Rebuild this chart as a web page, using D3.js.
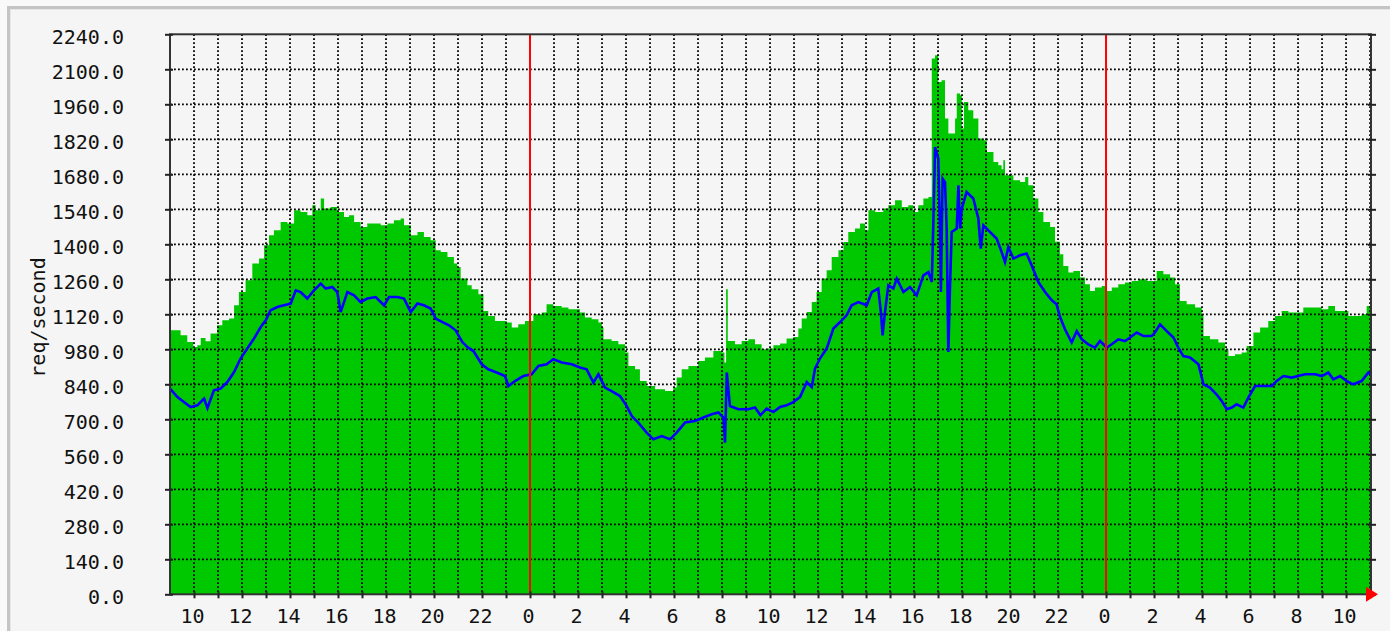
<!DOCTYPE html>
<html>
<head>
<meta charset="utf-8">
<script src="https://cdn.jsdelivr.net/npm/d3@7"></script>
<style>
  body { margin: 0; background: #f9f9f9; }
  svg { display: block; }
  text { font-family: "DejaVu Sans Mono", "Liberation Mono", monospace; font-size: 20px; fill: #111; }
</style>
</head>
<body>
<svg id="chart" width="1390" height="631"></svg>
<script>
// hours relative to the first midnight (0 = first red line, 24 = second)
const maxHours = [-15, -14.56, -14.28, -14.03, -13.86, -13.72, -13.52, -13.31, -13.03, -12.82, -12.54, -12.33, -12.13, -11.85, -11.57, -11.29, -11.08, -10.875, -10.67, -10.39, -10.11, -9.83, -9.56, -9.28, -9.07, -8.93, -8.72, -8.58, -8.31, -8.03, -7.75, -7.54, -7.33, -7.06, -6.78, -6.5, -6.22, -5.94, -5.67, -5.39, -5.25, -4.97, -4.69, -4.42, -4.14, -3.93, -3.72, -3.44, -3.17, -3.03, -2.89, -2.61, -2.43, -2.15, -1.94, -1.74, -1.46, -1.18, -0.97, -0.76, -0.49, -0.21, 0.14, 0.49, 0.69, 0.97, 1.32, 1.6, 1.875, 2.08, 2.29, 2.57, 2.85, 2.99, 3.06, 3.4, 3.68, 3.96, 4.1, 4.375, 4.58, 4.86, 5.21, 5.625, 5.97, 6.11, 6.32, 6.6, 6.9, 7.01, 7.29, 7.64, 7.99, 8.1, 8.17, 8.24, 8.54, 8.82, 9.1, 9.375, 9.65, 9.86, 10.14, 10.42, 10.69, 10.97, 11.18, 11.32, 11.53, 11.74, 11.94, 12.15, 12.36, 12.57, 12.85, 13.06, 13.26, 13.54, 13.75, 13.96, 14.1, 14.38, 14.72, 14.93, 15.21, 15.49, 15.76, 15.97, 16.18, 16.39, 16.6, 16.74, 16.875, 17.01, 17.15, 17.29, 17.43, 17.64, 17.71, 17.78, 17.92, 17.99, 18.08, 18.26, 18.47, 18.68, 18.89, 19.03, 19.31, 19.51, 19.65, 19.72, 19.79, 20.14, 20.42, 20.63, 20.76, 20.97, 21.18, 21.39, 21.67, 21.875, 22.08, 22.22, 22.43, 22.64, 22.92, 23.125, 23.33, 23.54, 23.82, 24.03, 24.24, 24.51, 24.79, 25.07, 25.35, 25.69, 25.97, 26.11, 26.39, 26.67, 26.875, 27.08, 27.36, 27.71, 27.99, 28.06, 28.33, 28.68, 28.96, 29.1, 29.375, 29.65, 29.86, 30.14, 30.42, 30.76, 31.04, 31.32, 31.6, 31.875, 32.22, 32.57, 32.99, 33.26, 33.54, 33.82, 34.1, 34.375, 34.65, 34.86, 35.04];
const maxReq = [1056, 1036, 1009, 989, 996, 1025, 1012, 1043, 1076, 1096, 1103, 1156, 1209, 1256, 1323, 1343, 1396, 1436, 1456, 1489, 1483, 1536, 1529, 1516, 1556, 1536, 1583, 1543, 1549, 1529, 1509, 1516, 1489, 1469, 1483, 1483, 1476, 1483, 1496, 1503, 1476, 1436, 1449, 1429, 1416, 1376, 1369, 1349, 1323, 1309, 1263, 1236, 1220, 1200, 1133, 1113, 1093, 1093, 1087, 1067, 1080, 1093, 1120, 1127, 1160, 1153, 1147, 1140, 1140, 1127, 1107, 1100, 1087, 1067, 1020, 1013, 1000, 967, 913, 900, 853, 833, 820, 813, 827, 867, 900, 913, 913, 933, 947, 973, 967, 927, 1220, 1013, 1000, 1013, 1020, 1000, 980, 983, 996, 1003, 1023, 1029, 1063, 1103, 1129, 1169, 1209, 1263, 1296, 1349, 1376, 1409, 1449, 1463, 1483, 1456, 1536, 1529, 1543, 1556, 1576, 1549, 1556, 1529, 1556, 1583, 1589, 2143, 2156, 2049, 2056, 1903, 1843, 1843, 1903, 2003, 1996, 1863, 1969, 1936, 1903, 1823, 1816, 1769, 1729, 1716, 1700, 1736, 1676, 1656, 1649, 1669, 1636, 1583, 1529, 1489, 1469, 1410, 1360, 1313, 1287, 1293, 1267, 1240, 1213, 1227, 1233, 1213, 1227, 1240, 1247, 1253, 1260, 1253, 1253, 1293, 1280, 1267, 1240, 1173, 1160, 1147, 1120, 1033, 1020, 1007, 980, 953, 960, 967, 993, 1047, 1067, 1093, 1113, 1133, 1127, 1127, 1147, 1147, 1140, 1153, 1133, 1133, 1113, 1113, 1120, 1153, 1167];

const avgHours = [-15, -14.69, -14.42, -14.14, -13.86, -13.58, -13.44, -13.17, -12.89, -12.61, -12.33, -12.06, -11.78, -11.5, -11.22, -11.01, -10.81, -10.53, -10.25, -9.97, -9.76, -9.56, -9.28, -9.0, -8.72, -8.51, -8.24, -8.03, -7.89, -7.61, -7.33, -7.06, -6.78, -6.43, -6.08, -5.875, -5.53, -5.25, -4.97, -4.69, -4.42, -4.14, -3.93, -3.65, -3.375, -3.1, -2.82, -2.61, -2.36, -2.01, -1.74, -1.39, -1.04, -0.9, -0.625, -0.28, 0.07, 0.35, 0.69, 0.97, 1.32, 1.74, 2.08, 2.36, 2.64, 2.85, 3.125, 3.4, 3.75, 4.03, 4.24, 4.51, 4.86, 5.14, 5.49, 5.83, 6.11, 6.46, 6.875, 7.22, 7.57, 7.85, 8.06, 8.125, 8.2, 8.33, 8.68, 9.1, 9.375, 9.6, 9.86, 10.14, 10.42, 10.69, 10.97, 11.25, 11.53, 11.74, 11.875, 12.08, 12.36, 12.64, 12.92, 13.19, 13.4, 13.68, 14.03, 14.24, 14.51, 14.62, 14.69, 14.79, 14.93, 15.14, 15.28, 15.56, 15.83, 16.11, 16.39, 16.6, 16.74, 16.81, 16.875, 17.01, 17.08, 17.12, 17.19, 17.29, 17.36, 17.43, 17.5, 17.57, 17.78, 17.85, 17.92, 17.99, 18.19, 18.47, 18.68, 18.78, 18.89, 19.17, 19.44, 19.65, 19.79, 19.93, 20.14, 20.42, 20.69, 20.9, 21.18, 21.46, 21.74, 21.94, 22.08, 22.29, 22.57, 22.78, 22.99, 23.26, 23.54, 23.75, 24.03, 24.24, 24.51, 24.79, 25.0, 25.28, 25.56, 25.9, 26.04, 26.25, 26.53, 26.81, 27.01, 27.22, 27.5, 27.85, 28.06, 28.33, 28.6, 28.82, 29.03, 29.24, 29.44, 29.72, 29.93, 30.21, 30.625, 30.9, 31.11, 31.39, 31.74, 32.01, 32.29, 32.71, 32.99, 33.26, 33.47, 33.75, 34.03, 34.3, 34.65, 34.93, 35.04];
const avgReq = [823, 789, 769, 749, 756, 783, 745, 816, 823, 849, 889, 943, 983, 1023, 1069, 1096, 1136, 1149, 1156, 1163, 1216, 1209, 1183, 1216, 1243, 1223, 1229, 1209, 1129, 1209, 1196, 1169, 1183, 1189, 1156, 1189, 1189, 1183, 1129, 1163, 1156, 1143, 1103, 1089, 1076, 1056, 1009, 989, 973, 920, 900, 887, 873, 833, 853, 873, 880, 913, 920, 940, 927, 920, 907, 900, 847, 880, 827, 813, 793, 753, 713, 687, 647, 620, 633, 620, 647, 687, 693, 707, 720, 727, 707, 607, 887, 753, 740, 740, 747, 716, 743, 729, 749, 756, 769, 789, 849, 829, 903, 943, 983, 1063, 1089, 1116, 1156, 1169, 1156, 1209, 1223, 1129, 1036, 1129, 1236, 1223, 1263, 1209, 1229, 1196, 1276, 1289, 1249, 1503, 1789, 1743, 1463, 1209, 1663, 1649, 1463, 969, 1236, 1449, 1463, 1636, 1463, 1543, 1609, 1583, 1503, 1383, 1476, 1449, 1423, 1369, 1329, 1389, 1343, 1356, 1363, 1316, 1249, 1209, 1176, 1160, 1110, 1060, 1007, 1053, 1020, 1000, 987, 1013, 987, 1000, 1020, 1013, 1027, 1047, 1033, 1033, 1047, 1080, 1053, 1027, 987, 953, 947, 920, 840, 827, 800, 773, 740, 747, 760, 747, 787, 833, 833, 833, 853, 873, 867, 873, 880, 880, 873, 887, 860, 873, 853, 840, 853, 887, 880];

const yTicks = [0, 140, 280, 420, 560, 700, 840, 980, 1120, 1260, 1400, 1540, 1680, 1820, 1960, 2100, 2240];
const labelHours = [-14, -12, -10, -8, -6, -4, -2, 0, 2, 4, 6, 8, 10, 12, 14, 16, 18, 20, 22, 24, 26, 28, 30, 32, 34];
const labelTexts = ["10", "12", "14", "16", "18", "20", "22", "0", "2", "4", "6", "8", "10", "12", "14", "16", "18", "20", "22", "0", "2", "4", "6", "8", "10"];
const midnights = [0, 24];

const svg = d3.select("#chart");
const plotLeft = 170, plotRight = 1371, plotTop = 34.3, plotBottom = 594.3;

const x = d3.scaleLinear().domain([-15, 35.04]).range([plotLeft, plotRight]);
const y = d3.scaleLinear().domain([0, 2240]).range([plotBottom, plotTop]);
const hourTicks = d3.range(-14, 36);

// outer frame
svg.append("rect").attr("x", 0).attr("y", 0).attr("width", 1390).attr("height", 631).attr("fill", "#f9f9f9");
svg.append("rect")
  .attr("x", 8.5).attr("y", 7.5).attr("width", 1450).attr("height", 700)
  .attr("fill", "#f5f5f5").attr("stroke", "#c4c4c4").attr("stroke-width", 3);
svg.append("rect")
  .attr("x", 10.5).attr("y", 9.5).attr("width", 1450).attr("height", 700)
  .attr("fill", "none").attr("stroke", "#e6e6e6").attr("stroke-width", 1);

svg.append("clipPath").attr("id", "plotClip")
  .append("rect").attr("x", plotLeft).attr("y", plotTop)
  .attr("width", plotRight - plotLeft).attr("height", plotBottom - plotTop);

const maxData = maxHours.map((t, i) => ({ t: t, v: maxReq[i] }));
const avgData = avgHours.map((t, i) => ({ t: t, v: avgReq[i] }));

// green max area
svg.append("path")
  .datum(maxData)
  .attr("clip-path", "url(#plotClip)")
  .attr("fill", "#00c800")
  .attr("d", d3.area().x((d) => x(d.t)).y0(plotBottom).y1((d) => y(d.v)).curve(d3.curveStepAfter));

// dotted grid
const grid = svg.append("g").attr("stroke", "#000").attr("stroke-width", 1.8).attr("stroke-dasharray", "1.8,2.2");
grid.selectAll(".hgrid")
  .data(yTicks.filter((v) => v > 0 && v < 2240))
  .enter().append("line")
  .attr("x1", plotLeft).attr("x2", plotRight)
  .attr("y1", (d) => y(d)).attr("y2", (d) => y(d));
grid.selectAll(".vgrid")
  .data(hourTicks.filter((h) => midnights.indexOf(h) < 0))
  .enter().append("line")
  .attr("x1", (d) => x(d)).attr("x2", (d) => x(d))
  .attr("y1", plotTop).attr("y2", plotBottom);

// blue average line
svg.append("path")
  .datum(avgData)
  .attr("clip-path", "url(#plotClip)")
  .attr("fill", "none")
  .attr("stroke", "#0000ff")
  .attr("stroke-width", 2.6)
  .attr("d", d3.line().x((d) => x(d.t)).y((d) => y(d.v)));

// red midnight lines
svg.selectAll(".midnight")
  .data(midnights)
  .enter().append("line")
  .attr("x1", (d) => x(d)).attr("x2", (d) => x(d))
  .attr("y1", plotTop).attr("y2", plotBottom)
  .attr("stroke", "#ff0000").attr("stroke-width", 2);

// frame of plot
svg.append("rect")
  .attr("x", plotLeft).attr("y", plotTop).attr("width", plotRight - plotLeft).attr("height", plotBottom - plotTop)
  .attr("fill", "none").attr("stroke", "#333").attr("stroke-width", 2);

// y axis left
const yAxis = svg.append("g")
  .attr("transform", `translate(${plotLeft},0)`)
  .call(d3.axisLeft(y).tickValues(yTicks).tickSize(5).tickPadding(41).tickFormat(d3.format(".1f")));
yAxis.select(".domain").remove();
yAxis.selectAll(".tick line").attr("x1", 3).attr("stroke", "#222").attr("stroke-width", 2);
yAxis.selectAll("text").attr("dy", "0.47em").attr("fill", "#111").style("font-size", "20px")
  .style("font-family", "'DejaVu Sans Mono', monospace");

// y axis right ticks
const yAxisR = svg.append("g")
  .attr("transform", `translate(${plotRight},0)`)
  .call(d3.axisRight(y).tickValues(yTicks).tickSize(5).tickFormat(""));
yAxisR.select(".domain").remove();
yAxisR.selectAll(".tick line").attr("x1", -3).attr("stroke", "#222").attr("stroke-width", 2);

// x axis
const xAxis = svg.append("g")
  .attr("transform", `translate(0,${plotBottom})`)
  .call(d3.axisBottom(x).tickValues(hourTicks).tickSize(4).tickFormat((h) => {
    const i = labelHours.indexOf(h);
    return i >= 0 ? labelTexts[i] : "";
  }));
xAxis.select(".domain").remove();
xAxis.selectAll(".tick line").attr("y1", -3).attr("stroke", "#222").attr("stroke-width", 2);
xAxis.selectAll("text").attr("y", 28.7).attr("dy", 0).attr("dx", -2).attr("fill", "#111")
  .style("font-size", "20px").style("font-family", "'DejaVu Sans Mono', monospace");

// y label
svg.append("text")
  .attr("transform", "translate(44.5,317.5) rotate(-90)")
  .attr("text-anchor", "middle")
  .text("req/second");

// red arrow at end of x axis
svg.append("path")
  .attr("d", `M${plotRight - 5},${plotBottom - 7.5}L${plotRight + 7},${plotBottom}L${plotRight - 5},${plotBottom + 7.5}Z`)
  .attr("fill", "#ff0000");
</script>
</body>
</html>
